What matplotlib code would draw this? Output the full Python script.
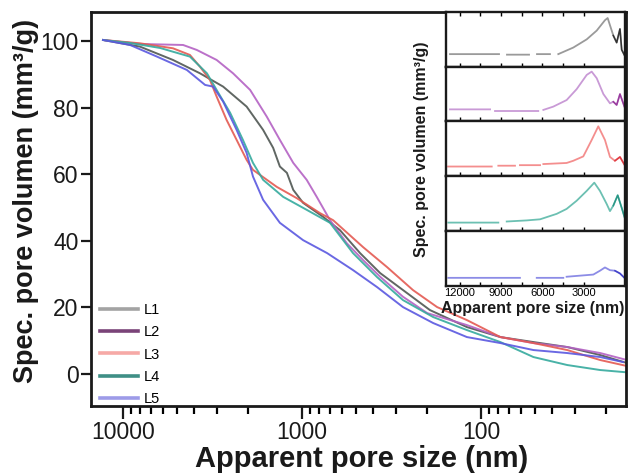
"""
Cumulative pore volume curves for five samples, with the pore size
distributions stacked in a small inset.
"""

import matplotlib.pyplot as plt
import numpy as np
from matplotlib.lines import Line2D
from matplotlib.ticker import LogLocator, NullFormatter

plt.rcParams["font.family"] = ["Liberation Sans", "DejaVu Sans"]

# Cumulative curves: apparent pore size (nm) and specific pore volume (mm3/g)
size_l1 = [12940, 8040, 5260, 3720, 2760, 2040, 1650, 1450, 1330, 1215, 1120,
           987, 763, 614, 474, 366, 259, 193, 120, 78, 51, 33, 21.6, 15.3]
vol_l1 = [100.3, 98.3, 94.3, 90.3, 86.3, 80.3, 73.3, 67.9, 62.3, 60.4, 55.3,
          51.4, 47.2, 43.2, 36.3, 30.3, 24.3, 19.2, 14.1, 11.1, 9.6, 8.1, 5.7, 3.3]

size_l2 = [12940, 8040, 4620, 3870, 3000, 2430, 1950, 1575, 1330, 1120, 942,
           828, 698, 563, 456, 366, 273, 200, 120, 78, 51, 33, 21.6, 15.3]
vol_l2 = [100.3, 99.1, 98.8, 97.3, 94.3, 90.3, 85.3, 77.3, 70.3, 63.4, 58.3,
          53.2, 46.2, 39.3, 34.2, 29.2, 23.2, 18.3, 14.7, 11.1, 9.3, 8.1, 6.3, 4.2]

size_l3 = [12940, 8040, 5260, 4230, 3720, 3270, 3000, 2640, 2320, 2040, 1880,
           1385, 1070, 793, 671, 456, 335, 240, 176, 120, 78, 51, 33, 21.6, 15.3]
vol_l3 = [100.3, 99.3, 97.8, 95.8, 92.3, 88.3, 83.3, 76.3, 70.3, 64.3, 61.3,
          56.2, 52.8, 48.3, 46.2, 38.1, 32.1, 25.2, 20.1, 16.2, 11.1, 9.3, 7.2,
          4.2, 2.4]

size_l4 = [12940, 9140, 6210, 4230, 3400, 3000, 2520, 2140, 1880, 1650, 1275,
           942, 698, 519, 381, 273, 185, 120, 78, 51, 33, 21.6, 15.3]
vol_l4 = [100.3, 99.4, 97.9, 95.3, 90.3, 85.3, 78.4, 70.3, 63.4, 58.3, 53.2,
          49.3, 45.4, 36.3, 29.1, 22.2, 17.1, 13.2, 9.6, 5.1, 2.7, 1.2, 0.5]

size_l5 = [12940, 9140, 6460, 4400, 3480, 3140, 2760, 2320, 2040, 1880, 1650,
           1330, 987, 724, 519, 381, 273, 185, 120, 78, 51, 33, 21.6, 16.1]
vol_l5 = [100.3, 98.8, 95.3, 91.3, 86.8, 86.3, 81.8, 73.3, 66.4, 59.3, 52.3,
          45.4, 40.2, 36.3, 31.2, 26.1, 20.1, 15.3, 11.1, 9.3, 7.2, 6.3, 5.1, 3.6]

# Pore size distributions (relative height in each panel); NaN marks a gap
nan = np.nan
psd_x1 = [12710, 9150, nan, 8570, 6970, nan, 6390, 5450, nan, 4845, 3755,
          2780, 2055, 1455, 1260, 850, 605, 365, 240, 0]
psd_y1 = [0.23, 0.23, nan, 0.22, 0.22, nan, 0.23, 0.23, nan, 0.23, 0.35,
          0.50, 0.66, 0.85, 0.89, 0.57, 0.44, 0.69, 0.31, 0.19]

psd_x2 = [12710, 9800, nan, 9440, 6300, nan, 5930, 5210, 4240, 3510, 2780,
          2420, 2055, 1570, 1090, 850, 605, 365, 170, 0]
psd_y2 = [0.22, 0.22, nan, 0.19, 0.19, nan, 0.21, 0.27, 0.39, 0.59, 0.85,
          0.91, 0.79, 0.50, 0.33, 0.36, 0.30, 0.50, 0.36, 0.24]

psd_x3 = [12850, 9680, nan, 9200, 7990, nan, 7630, 6170, nan, 5930, 4240,
          3760, 3030, 2420, 1940, 1455, 1090, 730, 365, 0]
psd_y3 = [0.175, 0.175, nan, 0.19, 0.19, nan, 0.20, 0.20, nan, 0.22, 0.24,
          0.28, 0.36, 0.66, 0.91, 0.66, 0.35, 0.28, 0.35, 0.19]

psd_x4 = [12830, 9200, nan, 8590, 7140, 6170, 4960, 4240, 3510, 2780, 2230,
          1820, 1330, 1090, 850, 530, 240, 0]
psd_y4 = [0.15, 0.15, nan, 0.17, 0.19, 0.21, 0.31, 0.40, 0.55, 0.73, 0.88,
          0.73, 0.49, 0.36, 0.46, 0.65, 0.42, 0.22]

psd_x5 = [12830, 7630, nan, 6410, 4480, nan, 4240, 2780, 2300, 1820, 1455,
          1090, 730, 365, 0]
psd_y5 = [0.14, 0.14, nan, 0.14, 0.14, nan, 0.16, 0.19, 0.20, 0.27, 0.33,
          0.28, 0.27, 0.22, 0.13]

labels = ["L1", "L2", "L3", "L4", "L5"]
curve_colors = ["#4f5652", "#b462c4", "#e45a52", "#35aa9e", "#5a58e0"]
legend_colors = ["#a3a3a3", "#7a4378", "#f6a9a6", "#3f8f86", "#9d9be8"]
psd_colors = ["#9a9a9a", "#c99ad6", "#f48e8e", "#6cc0b2", "#8c8ce6"]
psd_dark = ["#111111", "#8a1a8a", "#d8202a", "#148a78", "#2a2ac0"]

inset_ticks = [12000, 9000, 6000, 3000]
inset_minor = [10500, 7500, 4500]


def draw_main(ax):
    """Cumulative volume curves on a reversed log axis."""

    sizes = [size_l1, size_l2, size_l3, size_l4, size_l5]
    vols = [vol_l1, vol_l2, vol_l3, vol_l4, vol_l5]
    for x, y, c in zip(sizes, vols, curve_colors):
        ax.plot(x, y, color=c, lw=1.4, alpha=0.9)

    ax.set_xscale("log")
    ax.set_xlim(15100, 15.5)
    ax.set_ylim(-9.6, 108.7)
    ax.set_xticks([10000, 1000, 100], labels=["10000", "1000", "100"])
    ax.xaxis.set_minor_locator(LogLocator(base=10, subs=np.arange(2, 10)))
    ax.xaxis.set_minor_formatter(NullFormatter())
    ax.set_yticks([0, 20, 40, 60, 80, 100])

    for s in ax.spines.values():
        s.set_linewidth(2.0)
        s.set_color("#1a1a1a")
    ax.tick_params(axis="both", which="major", labelsize=16.5, width=1.6,
                   color="#1a1a1a", labelcolor="#1a1a1a")
    ax.tick_params(axis="x", which="major", length=9, pad=2)
    ax.tick_params(axis="y", which="major", length=7, pad=2)
    ax.tick_params(axis="x", which="minor", length=6, width=1.6)

    ax.set_xlabel("Apparent pore size (nm)", fontsize=21, fontweight="bold",
                  color="#1a1a1a")
    ax.xaxis.set_label_coords(0.505, -0.098)
    ax.set_ylabel("Spec. pore volumen (mm³/g)", fontsize=19.5,
                  fontweight="bold", color="#1a1a1a")
    ax.yaxis.set_label_coords(-0.097, 0.52)

    handles = [Line2D([], [], color=c, lw=2.6) for c in legend_colors]
    ax.legend(handles, labels, loc="lower left", bbox_to_anchor=(0.0, -0.022),
              frameon=False, fontsize=10.5, handlelength=2.6,
              handletextpad=0.4, labelspacing=0.56, borderpad=0.1)


def draw_inset(fig):
    """Five stacked pore size distribution panels."""

    xs = [psd_x1, psd_x2, psd_x3, psd_x4, psd_x5]
    ys = [psd_y1, psd_y2, psd_y3, psd_y4, psd_y5]
    left, right = 446 / 628, 625 / 628
    top_px, panel_px = 12, 54.7
    for i in range(5):
        bottom = 1 - (top_px + panel_px * (i + 1)) / 476
        ax = fig.add_axes([left, bottom, right - left, panel_px / 476])
        x = np.array(xs[i], dtype=float)
        y = np.array(ys[i], dtype=float)
        ax.plot(x, y, color=psd_colors[i], lw=1.3)
        tail = x <= 1000
        ax.plot(x[tail], y[tail], color=psd_dark[i], lw=1.1, alpha=0.75)
        ax.set_xlim(13000, 0)
        ax.set_ylim(0, 1)
        ax.set_yticks([])
        ax.set_xticks(inset_ticks)
        ax.set_xticks(inset_minor, minor=True)
        ax.tick_params(axis="x", which="both", direction="in", length=3,
                       width=1.0, top=(i == 0), labelsize=8,
                       labelbottom=(i == 4), pad=2)
        for s in ax.spines.values():
            s.set_linewidth(1.7)
            s.set_color("#1a1a1a")

    fig.text(533 / 628, 1 - 308 / 476, "Apparent pore size (nm)",
             fontsize=11.5, fontweight="bold", ha="center", va="center",
             color="#1a1a1a")
    fig.text(421.7 / 628, 1 - 149 / 476, "Spec. pore volumen (mm³/g)",
             fontsize=11.5, fontweight="bold", ha="center", va="center",
             rotation=90, color="#1a1a1a",
             bbox=dict(facecolor="white", edgecolor="none", pad=1))


def main():
    """Entry point of the script."""

    fig = plt.figure(figsize=(6.28, 4.76), dpi=100)
    ax = fig.add_axes([91 / 628, 1 - 406 / 476, 535 / 628, 394 / 476])
    draw_main(ax)
    draw_inset(fig)
    fig.savefig("out.png", dpi=100)


if __name__ == "__main__":
    main()
